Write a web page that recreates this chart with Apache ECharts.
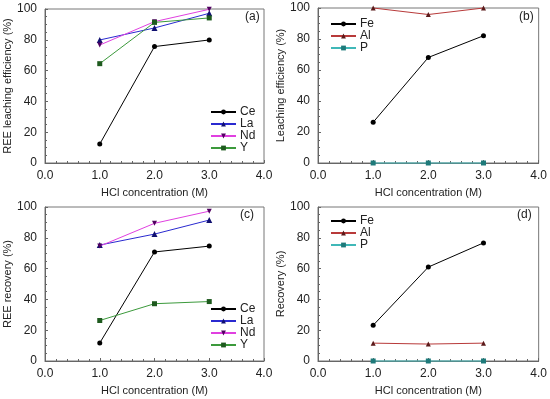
<!DOCTYPE html>
<html><head><meta charset="utf-8">
<script src="https://cdn.jsdelivr.net/npm/echarts@6/dist/echarts.min.js"></script>
<style>html,body{margin:0;padding:0;background:#fff}#c{width:550px;height:399px}</style>
</head><body><div id="c"></div>
<script>
const xVals = [1.0, 2.0, 3.0];
const xTicks = ['0.0','1.0','2.0','3.0','4.0'];
const aCe = [12.3, 75.6, 79.9];
const aLa = [79.9, 87.7, 97.2];
const aNd = [76.6, 91.8, 99.8];
const aY  = [64.5, 91.3, 94.2];
const bFe = [26.3, 68.1, 82.1];
const bAl = [100, 95.8, 100];
const bP  = [0, 0, 0];
const cCe = [11.7, 70.8, 74.6];
const cLa = [75.3, 82.4, 91.5];
const cNd = [74.6, 89.4, 97.3];
const cY  = [26.3, 37.2, 38.6];
const dFe = [23.2, 61.0, 76.7];
const dAl = [11.6, 11.0, 11.6];
const dP  = [0, 0, 0];
const yNames = ['REE leaching efficiency (%)', 'Leaching efficiency (%)', 'REE recovery (%)', 'Recovery (%)'];
const panelLabels = ['(a)', '(b)', '(c)', '(d)'];

const FONT = 'Liberation Sans, Arial, sans-serif';
const grids = [
  {left: 45, top: 9, width: 219, height: 154},
  {left: 318, top: 8, width: 221, height: 155},
  {left: 45, top: 207, width: 219, height: 154},
  {left: 318, top: 207, width: 221, height: 154}
];
const styles = {
  Ce: {line: '#000000', sym: 'circle', fill: '#000000', size: 5},
  La: {line: '#2a2ad0', sym: 'triangle', fill: '#101070', size: 6},
  Nd: {line: '#e040e0', sym: 'triangle', rot: 180, fill: '#500060', size: 5},
  Y:  {line: '#3c9a3c', sym: 'rect', fill: '#1e5a1e', size: 5},
  Fe: {line: '#000000', sym: 'circle', fill: '#000000', size: 5},
  Al: {line: '#b83a3a', sym: 'triangle', fill: '#5a1a1a', size: 5},
  P:  {line: '#40b8b8', sym: 'rect', fill: '#1e7a7a', size: 5}
};
const panels = [
  {names: ['Ce','La','Nd','Y'], data: [aCe, aLa, aNd, aY]},
  {names: ['Fe','Al','P'], data: [bFe, bAl, bP]},
  {names: ['Ce','La','Nd','Y'], data: [cCe, cLa, cNd, cY]},
  {names: ['Fe','Al','P'], data: [dFe, dAl, dP]}
];
const legendPos = [
  {left: 210, top: 106},
  {left: 330, top: 18},
  {left: 210, top: 303},
  {left: 330, top: 215}
];
const labelPos = [[253, 18], [527, 18], [248, 216], [525, 216]];

const series = [];
panels.forEach((p, i) => {
  p.names.forEach((n, j) => {
    const s = styles[n];
    series.push({
      type: 'line', name: n, xAxisIndex: i, yAxisIndex: i,
      data: xVals.map((x, k) => [x, p.data[j][k]]),
      symbol: s.sym, symbolSize: s.size, symbolRotate: s.rot || 0,
      showAllSymbol: true, clip: false,
      lineStyle: {color: s.line, width: 1},
      itemStyle: {color: s.fill, borderWidth: 0},
      emphasis: {disabled: true}, animation: false
    });
  });
});

const axisCommon = {
  axisLine: {lineStyle: {color: '#666', width: 1}},
  axisTick: {inside: true, length: 3, lineStyle: {color: '#666'}},
  splitLine: {show: false},
};

const option = {
  backgroundColor: '#fff',
  animation: false,
  grid: grids.map(g => Object.assign({show: true, borderColor: '#777', borderWidth: 1, backgroundColor: 'transparent'}, g)),
  xAxis: grids.map((g, i) => Object.assign({}, axisCommon, {
    type: 'value', gridIndex: i, min: 0, max: 4, interval: 1,
    minorTick: {show: true, splitNumber: 5, length: 2, lineStyle: {color: '#666'}},
    axisLabel: {color: '#222', fontFamily: FONT, fontSize: 12, margin: 7, formatter: v => xTicks[Math.round(v)]},
    name: 'HCl concentration (M)', nameLocation: 'middle', nameGap: 24,
    nameTextStyle: {color: '#222', fontFamily: FONT, fontSize: 11}
  })),
  yAxis: grids.map((g, i) => Object.assign({}, axisCommon, {
    type: 'value', gridIndex: i, min: 0, max: 100, interval: 20,
    minorTick: {show: true, splitNumber: 4, length: 2, lineStyle: {color: '#666'}},
    axisLabel: {color: '#222', fontFamily: FONT, fontSize: 12, margin: 8},
    name: yNames[i], nameLocation: 'middle', nameGap: 26,
    nameTextStyle: {color: '#222', fontFamily: FONT, fontSize: 11}
  })),
  legend: panels.map((p, i) => ({
    data: p.names, orient: 'vertical', left: legendPos[i].left, top: legendPos[i].top,
    padding: 0, itemGap: 0, itemWidth: 25, itemHeight: 6,
    textStyle: {color: '#222', fontFamily: FONT, fontSize: 12, lineHeight: 12, padding: [0,0,0,-1]},
    selectedMode: false
  })),
  graphic: panelLabels.map((t, i) => ({
    type: 'text', left: labelPos[i][0] - 8, top: labelPos[i][1] - 7,
    style: {text: t, fill: '#222', font: '12px ' + FONT}
  })),
  series: series
};
const chart = echarts.init(document.getElementById('c'), null, {renderer: 'canvas'});
chart.setOption(option);
</script></body></html>
